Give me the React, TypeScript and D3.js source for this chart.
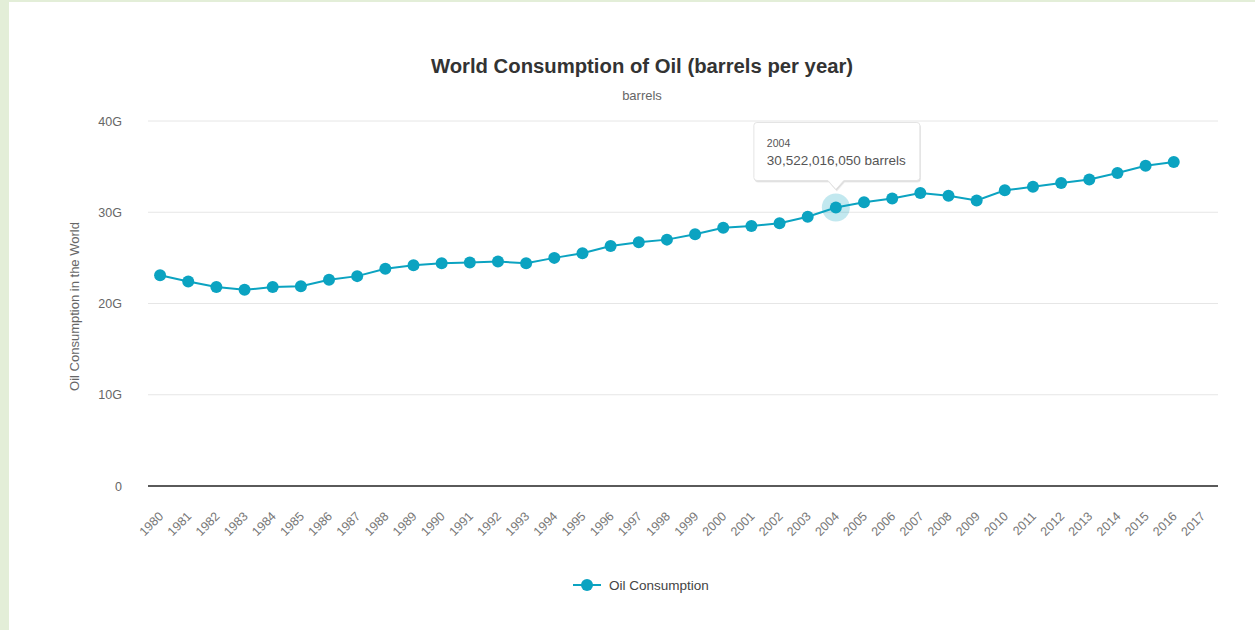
import { useEffect, useRef } from 'react';
import * as d3 from 'd3';

// Años del eje (2017 aparece en el eje pero sin dato)
const years = [
  '1980', '1981', '1982', '1983', '1984', '1985', '1986', '1987', '1988', '1989',
  '1990', '1991', '1992', '1993', '1994', '1995', '1996', '1997', '1998', '1999',
  '2000', '2001', '2002', '2003', '2004', '2005', '2006', '2007', '2008', '2009',
  '2010', '2011', '2012', '2013', '2014', '2015', '2016', '2017',
];

// Consumo en miles de millones de barriles
const consumption = [
  23.1, 22.4, 21.8, 21.5, 21.8, 21.9, 22.6, 23.0, 23.8, 24.2,
  24.4, 24.5, 24.6, 24.4, 25.0, 25.5, 26.3, 26.7, 27.0, 27.6,
  28.3, 28.5, 28.8, 29.5, 30.522016050, 31.1, 31.5, 32.1, 31.8, 31.3,
  32.4, 32.8, 33.2, 33.6, 34.3, 35.1, 35.5,
];

const yTicks = [0, 10, 20, 30, 40];
const hoverIndex = 24;

const COLOR = '#0ba3c1';
const FONT = '"Liberation Sans", Arial, sans-serif';

export default function App() {
  const chartRef = useRef<SVGGElement | null>(null);

  const W = 1255;
  const H = 630;
  const margin = { top: 121, right: 37, bottom: 144, left: 148 };
  const width = W - margin.left - margin.right;
  const height = H - margin.top - margin.bottom;

  const x = d3.scaleBand<string>().domain(years).range([0, width]);
  const y = d3.scaleLinear().domain([0, 40]).range([height, 0]);
  const cx = (i: number) => (x(years[i]) ?? 0) + x.bandwidth() / 2 - 2;

  useEffect(() => {
    const g = d3.select(chartRef.current);
    g.selectAll('*').remove();

    // Rejilla
    g.append('g')
      .selectAll('line')
      .data(yTicks.filter(t => t > 0))
      .enter().append('line')
      .attr('x1', 0).attr('x2', width)
      .attr('y1', d => y(d)).attr('y2', d => y(d))
      .attr('stroke', '#e6e6e6').attr('stroke-width', 1);

    // Etiquetas eje Y
    g.append('g')
      .selectAll('text')
      .data(yTicks)
      .enter().append('text')
      .attr('x', -26)
      .attr('y', d => y(d) + 4.5)
      .attr('text-anchor', 'end')
      .attr('font-size', 12.5)
      .attr('fill', '#666')
      .text(d => (d === 0 ? '0' : `${d}G`));

    // Eje X
    g.append('line')
      .attr('x1', 0).attr('x2', width)
      .attr('y1', height).attr('y2', height)
      .attr('stroke', '#5a5a5a').attr('stroke-width', 2);

    g.append('g')
      .selectAll('text')
      .data(years)
      .enter().append('text')
      .attr('transform', (_d, i) => `translate(${cx(i) + 4},${height + 31}) rotate(-45)`)
      .attr('text-anchor', 'end')
      .attr('font-size', 12.5)
      .attr('fill', '#777')
      .text(d => d);

    // Línea
    const line = d3.line<number>()
      .x((_d, i) => cx(i))
      .y(d => y(d));

    g.append('path')
      .datum(consumption)
      .attr('fill', 'none')
      .attr('stroke', COLOR)
      .attr('stroke-width', 2)
      .attr('d', line);

    // Halo del punto activo
    g.append('circle')
      .attr('cx', cx(hoverIndex))
      .attr('cy', y(consumption[hoverIndex]))
      .attr('r', 14)
      .attr('fill', COLOR)
      .attr('opacity', 0.25);

    g.append('g')
      .selectAll('circle')
      .data(consumption)
      .enter().append('circle')
      .attr('cx', (_d, i) => cx(i))
      .attr('cy', d => y(d))
      .attr('r', 6)
      .attr('fill', COLOR);

    // Tooltip
    const px = cx(hoverIndex);
    const py = y(consumption[hoverIndex]);
    const tw = 166;
    const th = 58;
    const tx = px - 82;
    const ty = py - 85;
    const ax = px;
    const ay = ty + th + 9;
    const tipPath = `M${tx + 3},${ty} H${tx + tw - 3} Q${tx + tw},${ty} ${tx + tw},${ty + 3} V${ty + th - 3} Q${tx + tw},${ty + th} ${tx + tw - 3},${ty + th} H${ax + 8} L${ax},${ay} L${ax - 8},${ty + th} H${tx + 3} Q${tx},${ty + th} ${tx},${ty + th - 3} V${ty + 3} Q${tx},${ty} ${tx + 3},${ty} Z`;

    const tip = g.append('g');
    tip.append('path')
      .attr('d', tipPath)
      .attr('transform', 'translate(1,2)')
      .attr('fill', 'rgba(0,0,0,0.08)');
    tip.append('path')
      .attr('d', tipPath)
      .attr('transform', 'translate(0.5,1)')
      .attr('fill', 'rgba(0,0,0,0.08)');
    tip.append('path')
      .attr('d', tipPath)
      .attr('fill', '#fff')
      .attr('stroke', '#e4e4e4')
      .attr('stroke-width', 1);
    tip.append('text')
      .attr('x', tx + 13).attr('y', ty + 25)
      .attr('font-size', 10.5)
      .attr('fill', '#555')
      .text(years[hoverIndex]);
    tip.append('text')
      .attr('x', tx + 13).attr('y', ty + 43)
      .attr('font-size', 13.5)
      .attr('fill', '#555')
      .text(`${d3.format(',')(Math.round(consumption[hoverIndex] * 1e9))} barrels`);
  }, []);

  return (
    <div style={{ position: 'absolute', left: 0, top: 0, width: W, height: H }}>
      <svg width={W} height={H} style={{ display: 'block', fontFamily: FONT }}>
        <rect x={0} y={0} width={W} height={H} fill="#e3eed8" />
        <rect x={9} y={2} width={W - 9} height={H - 2} fill="#fff" />
        <text x={642} y={73} textAnchor="middle" fontSize={20.3} fontWeight="bold" fill="#333">
          World Consumption of Oil (barrels per year)
        </text>
        <text x={642} y={100} textAnchor="middle" fontSize={13} fill="#666">
          barrels
        </text>
        <text
          transform={`translate(79,${margin.top + height / 2 + 3}) rotate(-90)`}
          textAnchor="middle"
          fontSize={13}
          fill="#666"
        >
          Oil Consumption in the World
        </text>
        <g ref={chartRef} transform={`translate(${margin.left},${margin.top})`} />
        <g transform="translate(573,585)">
          <line x1={0} x2={28} y1={0} y2={0} stroke={COLOR} strokeWidth={2} />
          <circle cx={14} cy={0} r={6} fill={COLOR} />
          <text x={36} y={4.5} fontSize={13.5} fill="#444">Oil Consumption</text>
        </g>
      </svg>
    </div>
  );
}
